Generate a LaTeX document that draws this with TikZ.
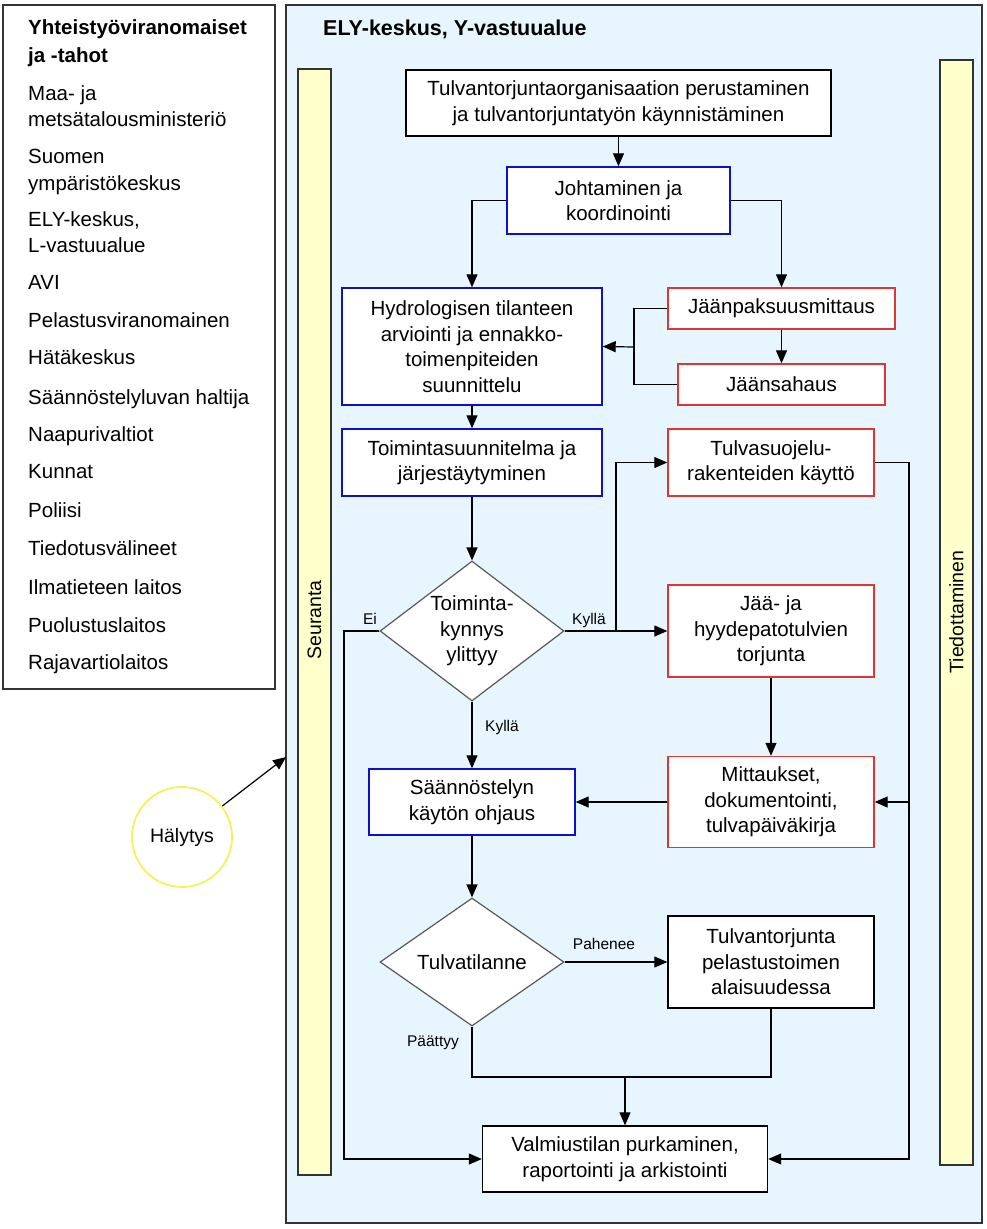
\documentclass[tikz,border=0pt]{standalone}
\usepackage{fontspec}
\setmainfont{Liberation Sans}
\usetikzlibrary{shapes.geometric,arrows.meta,calc}

\definecolor{framebg}{HTML}{E6F5FE}
\definecolor{barbg}{HTML}{FFFFCC}
\definecolor{boxblue}{HTML}{1010CC}
\definecolor{boxred}{HTML}{E03535}
\definecolor{ringyel}{HTML}{F2F25A}
\definecolor{framegray}{HTML}{333333}

\newcommand{\boxfont}{\fontsize{20.5}{25.5}\selectfont}
\newcommand{\labfont}{\fontsize{15.5}{18}\selectfont}

\tikzset{
  box/.style={draw=#1, line width=1.4pt, fill=white, align=center, inner sep=0pt, font=\boxfont},
  box/.default=black,
  dec/.style={diamond, draw=black!65, line width=1.2pt, fill=white, align=center,
    inner sep=0pt, aspect=1.35, font=\boxfont},
  bar/.style={draw=framegray, line width=1.2pt, fill=barbg},
  item/.style={anchor=base west, inner sep=0pt, font=\fontsize{20.5}{24}\selectfont},
  lab/.style={inner sep=0pt, font=\labfont},
  line/.style={line width=1.2pt},
  link/.style={line width=1.2pt, -{Triangle[length=13pt,width=11pt]}}
}

\begin{document}
\begin{tikzpicture}[x=1pt,y=-1pt]
    \useasboundingbox (0,0) rectangle (987,1229);

    % Yhteistyotahot
    \draw [framegray, line width=1.2pt, fill=white] (3,5) rectangle (275,689);
    \foreach \y/\t [count=\i] in {27/{\bfseries Yhteistyöviranomaiset}, 55/{\bfseries ja -tahot},
        93/{Maa- ja}, 119/{metsätalousministeriö}, 156/{Suomen}, 183/{ympäristökeskus},
        219/{ELY-keskus,}, 245/{L-vastuualue}, 282/{AVI}, 320/{Pelastusviranomainen},
        357/{Hätäkeskus}, 397/{Säännöstelyluvan haltija}, 434/{Naapurivaltiot},
        471/{Kunnat}, 510/{Poliisi}, 548/{Tiedotusvälineet}, 587/{Ilmatieteen laitos},
        625/{Puolustuslaitos}, 662/{Rajavartiolaitos}}
        \node [item] (taho\i) at (28,\y+7.5) {\t};

    % ELY-keskus
    \draw [framegray, line width=1.2pt, fill=framebg] (286,5) rectangle (982,1223);
    \node [anchor=base west, inner sep=0pt, font=\fontsize{21.5}{24}\selectfont\bfseries] (ely) at (323,35) {ELY-keskus, Y-vastuualue};

    % Seuranta ja tiedottaminen
    \draw [bar] (298,69) rectangle (331,1175);
    \node [rotate=90, font=\fontsize{19.5}{22}\selectfont] (seur) at (314.5,620) {Seuranta};
    \draw [bar] (940,60) rectangle (973,1165);
    \node [rotate=90, font=\fontsize{19.5}{22}\selectfont] (tied) at (956.5,612) {Tiedottaminen};

    % Prosessi
    \node [box, minimum width=425, minimum height=66] (org) at (618.5,103) {Tulvantorjuntaorganisaation perustaminen\\ja tulvantorjuntatyön käynnistäminen};
    \node [box=boxblue, minimum width=223, minimum height=67] (joht) at (618.5,200.5) {Johtaminen ja\\koordinointi};
    \node [box=boxblue, minimum width=260, minimum height=117] (hydro) at (472,346.5) {Hydrologisen tilanteen\\arviointi ja ennakko-\\toimenpiteiden\\suunnittelu};
    \node [box=boxred, minimum width=227, minimum height=41] (paks) at (781.5,308.5) {Jäänpaksuusmittaus};
    \node [box=boxred, minimum width=207, minimum height=41] (saha) at (781.5,384.5) {Jäänsahaus};
    \node [box=boxblue, minimum width=260, minimum height=67] (suunn) at (472,462.5) {Toimintasuunnitelma ja\\järjestäytyminen};
    \node [box=boxred, minimum width=206, minimum height=67] (suoj) at (771,462.5) {Tulvasuojelu-\\rakenteiden käyttö};
    \node [dec, minimum width=184, minimum height=140] (kynnys) at (472,631) {Toiminta-\\kynnys\\ylittyy};
    \node [box=boxred, minimum width=206, minimum height=92] (jaa) at (771,631) {Jää- ja\\hyydepatotulvien\\torjunta};
    \node [box=boxred, minimum width=206, minimum height=91] (mitt) at (771,802) {Mittaukset,\\dokumentointi,\\tulvapäiväkirja};
    \node [box=boxblue, minimum width=206, minimum height=66] (saan) at (472,802) {Säännöstelyn\\käytön ohjaus};
    \node [dec, minimum width=184, minimum height=128] (tilanne) at (472,962) {Tulvatilanne};
    \node [box, minimum width=206, minimum height=92] (pel) at (771,962) {Tulvantorjunta\\pelastustoimen\\alaisuudessa};
    \node [box, minimum width=285, minimum height=66] (valm) at (625,1159) {Valmiustilan purkaminen,\\raportointi ja arkistointi};
    \node [circle, draw=ringyel, line width=1.8pt, minimum size=100, inner sep=0pt,
        font=\fontsize{19.5}{22}\selectfont] (haly) at (182,837) {Hälytys};

    % Apupisteet
    \coordinate (jaan) at (634,347);
    \coordinate (kylla) at (616,631);
    \coordinate (ei) at (344,1159);
    \coordinate (tiedo) at (909,1159);
    \coordinate (tiedm) at (909,802);
    \coordinate (loppu) at (625,1077);
    \coordinate (reuna) at (286,757);

    % Yhteydet
    \draw [link] (org) -- (joht);
    \draw [link] (joht.west) -| (hydro.north);
    \draw [link] (joht.east) -| (paks.north);
    \draw [link] (paks) -- (saha);
    \draw [line] (paks.west) -| (jaan) |- (saha.west);
    \draw [link] (jaan) -- (hydro.east);
    \draw [link] (hydro) -- (suunn);
    \draw [link] (suunn) -- (kynnys);
    \draw [link] (kynnys.east) -- (jaa.west);
    \draw [link] (kylla) |- (suoj.west);
    \draw [link] (kynnys.west) -| (ei) -- (valm.west);
    \draw [link] (kynnys) -- (saan);
    \draw [link] (jaa) -- (mitt);
    \draw [link] (mitt) -- (saan);
    \draw [link] (suoj.east) -| (tiedo) -- (valm.east);
    \draw [link] (tiedm) -- (mitt.east);
    \draw [link] (saan) -- (tilanne);
    \draw [link] (tilanne.east) -- (pel.west);
    \draw [line] (tilanne.south) |- (loppu) -| (pel.south);
    \draw [link] (loppu) -- (valm);
    \draw [link] (haly) -- (reuna);

    % Nuolten tekstit
    \node [lab] (eil) at (370,619) {Ei};
    \node [lab] (kyl1) at (589,620) {Kyllä};
    \node [lab] (kyl2) at (502,727) {Kyllä};
    \node [lab] (pah) at (604,944) {Pahenee};
    \node [lab] (paat) at (433,1043) {Päättyy};
\end{tikzpicture}
\end{document}
